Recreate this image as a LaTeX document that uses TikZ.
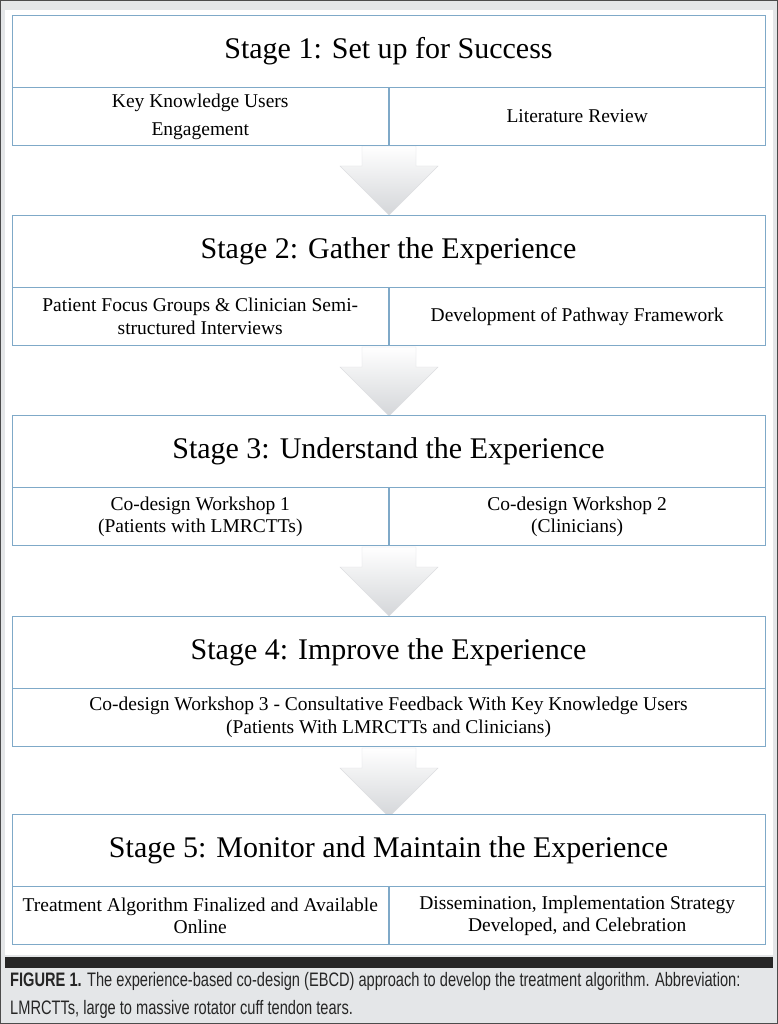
\documentclass[tikz,border=0pt]{standalone}
\usepackage{fontspec}
\setmainfont{Liberation Serif}
\newfontfamily\capfont{Liberation Sans}[FakeStretch=0.75]
\usetikzlibrary{positioning,shadows}
\definecolor{framegray}{HTML}{E4E6E8}
\definecolor{boxline}{HTML}{7FA9C8}
\definecolor{arrowgray}{HTML}{D4D6D9}
\begin{document}
\begin{tikzpicture}[x=1pt,y=-1pt,
    title/.style={draw=boxline, fill=white, minimum width=753pt, minimum height=72pt, inner sep=0pt, font=\fontsize{30}{34}\selectfont, drop shadow={opacity=0.25, shadow xshift=1pt, shadow yshift=-2pt}},
    half/.style={draw=boxline, fill=white, minimum width=376.5pt, minimum height=58pt, inner sep=1pt, align=center, font=\fontsize{19.5}{28}\selectfont},
    full/.style={draw=boxline, fill=white, minimum width=753pt, minimum height=58pt, inner sep=1pt, align=center, font=\fontsize{19.5}{28}\selectfont},
    down/.style={draw=arrowgray!80, top color=white, bottom color=arrowgray}]
  \useasboundingbox (0,0) rectangle (778,1024);
  \fill[framegray] (0,0) rectangle (778,1024);
  \fill[white] (5,10) rectangle (773,955);
  \fill[black!85] (5,957) rectangle (773,968);
  \draw[black!70, line width=1.2pt] (0.6,0.6) rectangle (777.4,1023.4);

  % arrows between stages
  \foreach \y in {146,347,547,748}
    \draw[down] (362,\y) -- (416,\y) -- (416,\y+20) -- (438,\y+20) -- (389,\y+69) -- (340,\y+20) -- (362,\y+20) -- cycle;

  % stage 1
  \node[title] (s1) at (388.5,51) {Stage 1: Set up for Success};
  \node[half, below=0pt of s1.south west, anchor=north west] (s1a) {Key Knowledge Users\\Engagement};
  \node[half, right=0pt of s1a] (s1b) {Literature Review};

  % stage 2
  \node[title] (s2) at (388.5,251) {Stage 2: Gather the Experience};
  \node[half, below=0pt of s2.south west, anchor=north west, font=\fontsize{19.5}{23}\selectfont] (s2a) {Patient Focus Groups \& Clinician Semi-\\structured Interviews};
  \node[half, right=0pt of s2a] (s2b) {Development of Pathway Framework};

  % stage 3
  \node[title] (s3) at (388.5,451) {Stage 3: Understand the Experience};
  \node[half, below=0pt of s3.south west, anchor=north west, font=\fontsize{19.5}{22}\selectfont] (s3a) {Co-design Workshop 1\\(Patients with LMRCTTs)};
  \node[half, right=0pt of s3a, font=\fontsize{19.5}{22}\selectfont] (s3b) {Co-design Workshop 2\\(Clinicians)};

  % stage 4
  \node[title] (s4) at (388.5,652) {Stage 4: Improve the Experience};
  \node[full, below=0pt of s4, font=\fontsize{19.5}{23}\selectfont] (s4a) {Co-design Workshop 3 - Consultative Feedback With Key Knowledge Users\\(Patients With LMRCTTs and Clinicians)};

  % stage 5
  \node[title] (s5) at (388.5,850) {Stage 5: Monitor and Maintain the Experience};
  \node[half, below=0pt of s5.south west, anchor=north west, inner sep=0pt, font=\fontsize{19.5}{22}\selectfont] (s5a) {Treatment Algorithm Finalized and Available\\Online};
  \node[half, right=0pt of s5a, font=\fontsize{19.5}{22}\selectfont] (s5b) {Dissemination, Implementation Strategy\\Developed, and Celebration};

  % caption
  \node[anchor=north west, align=left, inner sep=0pt, font=\capfont\fontsize{19.5}{28}\selectfont, text=black!85] (cap) at (10,972)
    {\textbf{FIGURE 1.} The experience-based co-design (EBCD) approach to develop the treatment algorithm. Abbreviation:\\LMRCTTs, large to massive rotator cuff tendon tears.};
\end{tikzpicture}
\end{document}
